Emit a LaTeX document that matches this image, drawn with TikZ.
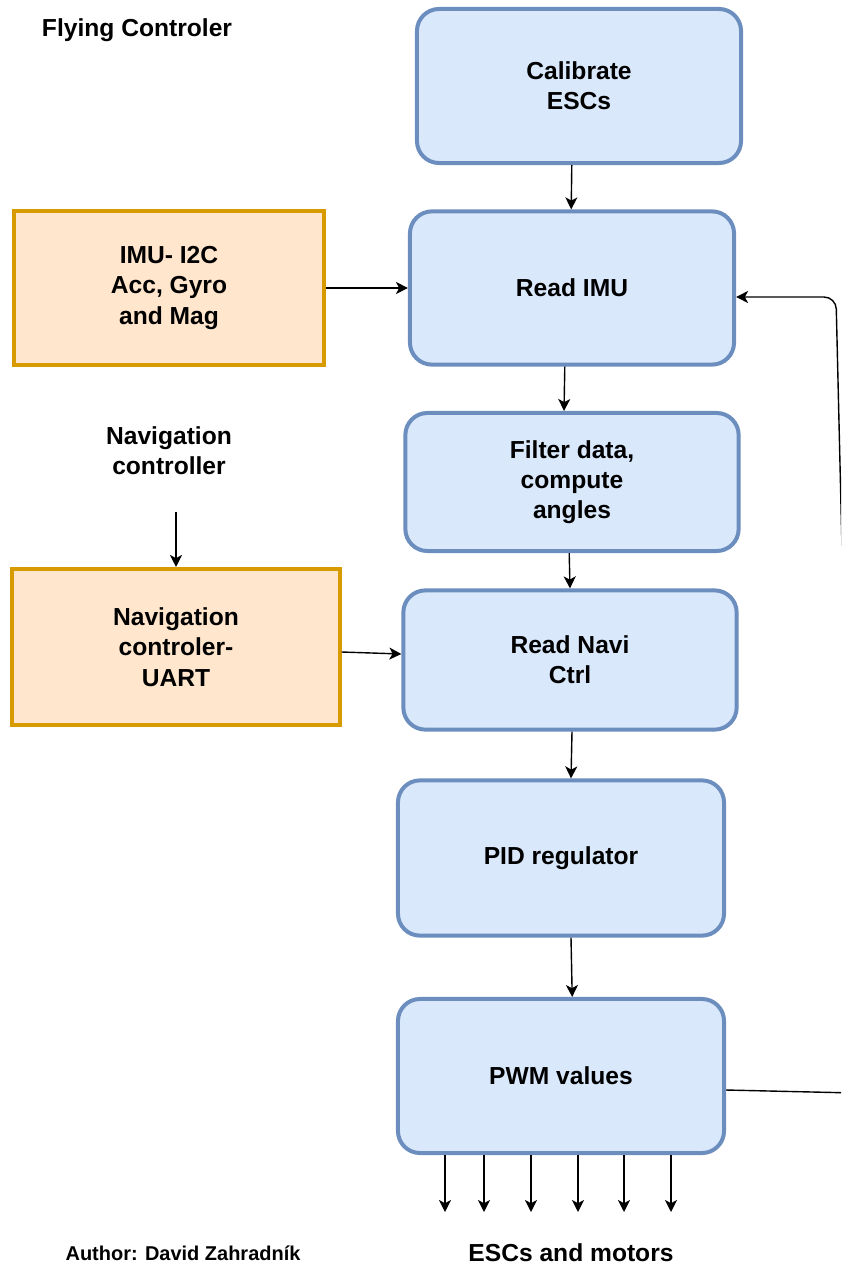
\documentclass[tikz,border=0pt]{standalone}
\usepackage{fontspec}
\setmainfont{Liberation Sans}
\usetikzlibrary{arrows.meta}
\definecolor{stepfill}{HTML}{DAE8FC}
\definecolor{stepline}{HTML}{6C8EBF}
\definecolor{iofill}{HTML}{FFE6CC}
\definecolor{ioline}{HTML}{D79B00}
\begin{document}
\begin{tikzpicture}[x=0.025cm,y=-0.025cm,
  stepbox/.style={draw=stepline,fill=stepfill,line width=0.1cm,rounded corners=0.55cm,
    align=center,font=\fontsize{17.5}{21.5}\selectfont\bfseries},
  iobox/.style={draw=ioline,fill=iofill,line width=0.1cm,
    align=center,font=\fontsize{17.5}{21.5}\selectfont\bfseries},
  lbl/.style={align=center,font=\fontsize{17.5}{21.5}\selectfont\bfseries},
  arr/.style={-{Stealth[length=0.3cm,width=0.3cm,inset=0.08cm]},line width=0.035cm}]
  \useasboundingbox (0,0) rectangle (841,1267);
  \clip (0,0) rectangle (841,1267);

  \node[lbl] (title) at (137,30) {Flying Controler};

  \node[stepbox,minimum width=8.1cm,minimum height=3.85cm] (cal) at (579,86) {Calibrate\\ESCs};
  \node[stepbox,minimum width=8.1cm,minimum height=3.83cm] (readimu) at (572,288) {Read IMU};
  \node[stepbox,minimum width=8.33cm,minimum height=3.45cm] (filter) at (572,482) {Filter data,\\compute\\angles};
  \node[stepbox,minimum width=8.33cm,minimum height=3.48cm] (readnavi) at (570,660) {Read Navi\\Ctrl};
  \node[stepbox,minimum width=8.15cm,minimum height=3.88cm] (pid) at (561,858) {PID regulator};
  \node[stepbox,minimum width=8.15cm,minimum height=3.85cm] (pwm) at (561,1076) {PWM values};

  \node[iobox,minimum width=7.75cm,minimum height=3.85cm] (imu) at (169,288) {IMU- I2C\\Acc, Gyro\\and Mag};
  \node[lbl] (navlbl) at (169,451) {Navigation\\controller};
  \node[iobox,minimum width=8.18cm,minimum height=3.9cm] (nav) at (176,647) {Navigation\\controler-\\UART};

  \node[lbl] (escs) at (571,1253) {ESCs and motors};
  \node[font=\fontsize{14.2}{17}\selectfont\bfseries] (author) at (183,1253) {Author: David Zahradník};

  \coordinate (navin) at (176,512);
  \draw[arr] (navin) -- (nav.north);
  \draw[arr] (imu.east) -- (readimu.west);
  \draw[arr] ([yshift=-0.125cm]nav.east) -- ([yshift=0.15cm]readnavi.west);

  \draw[arr] ([xshift=-0.18cm]cal.south) -- ([xshift=-0.02cm]readimu.north);
  \draw[arr] ([xshift=-0.18cm]readimu.south) -- ([xshift=-0.2cm]filter.north);
  \draw[arr] ([xshift=-0.07cm]filter.south) -- (readnavi.north);
  \draw[arr] ([xshift=0.05cm]readnavi.south) -- ([xshift=0.25cm]pid.north);
  \draw[arr] ([xshift=0.25cm]pid.south) -- ([xshift=0.28cm]pwm.north);

  % outputs to the motors
  \foreach \x in {445,484,531,578,624,671}
    \draw[arr] (pwm.south -| \x,0) -- (\x,1212);

  % feedback loop
  \coordinate (fb1) at (855,1093);
  \coordinate (fb2) at (836,297);
  \draw[arr,rounded corners=0.3cm] ([yshift=-0.35cm]pwm.east) -- (fb1) -- (fb2) -- (fb2 -| readimu.east);
\end{tikzpicture}
\end{document}
